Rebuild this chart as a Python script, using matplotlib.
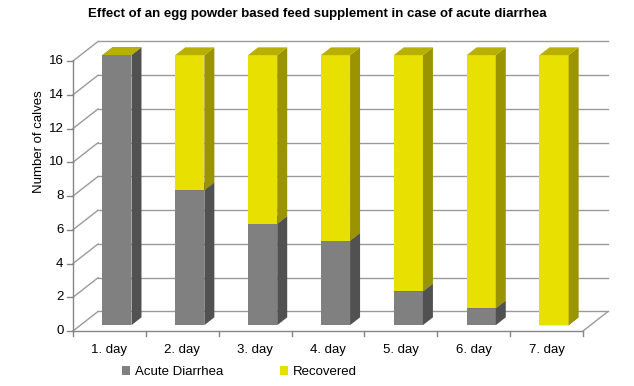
import matplotlib
matplotlib.use("Agg")
import matplotlib.pyplot as plt
from matplotlib.patches import Polygon, Patch

# ── data ───────────────────────────────────────────────
days = ["1. day", "2. day", "3. day", "4. day", "5. day", "6. day", "7. day"]
acute = [16, 8, 6, 5, 2, 1, 0]
recovered = [0, 8, 10, 11, 14, 15, 16]
yticks = [0, 2, 4, 6, 8, 10, 12, 14, 16]

series = [
    ("Acute Diarrhea", acute, ("#808080", "#515151", "#6a6a6a")),
    ("Recovered", recovered, ("#e8e000", "#9a9400", "#b8b000")),
]

# ── fake 3D geometry (depth offset in data units) ──────
DX, DY = 0.343, 1.156          # back wall offset
BAR_W = 0.4
Z0, Z1 = 0.3, 0.7              # bar depth range (fraction of DX/DY)
GRID = "#9a9a9a"
AXIS = "#868686"
FONT = "Liberation Sans"

fig = plt.figure(figsize=(6.34, 3.86), dpi=100)
ax = fig.add_axes([0, 0, 1, 1])
ax.set_xlim(-1.002, 7.70)
ax.set_ylim(-3.259, 19.615)
ax.axis("off")

n = len(days)
ymax = yticks[-1]

# walls / gridlines
for v in yticks:
    ax.plot([0, DX], [v, v + DY], color=GRID, lw=1, zorder=1)
    ax.plot([DX, n + DX], [v + DY, v + DY], color=GRID, lw=1, zorder=1)
    ax.plot([-0.08, 0], [v, v], color=AXIS, lw=1, zorder=1)
    ax.text(-0.13, v, str(v), ha="right", va="center", fontsize=9.5,
            family=FONT)
ax.plot([0, n], [0, 0], color=AXIS, lw=1, zorder=1)
ax.plot([n, n + DX], [0, DY], color=GRID, lw=1, zorder=1)
ax.plot([0, 0], [0, ymax], color=AXIS, lw=1, zorder=1)
for i in range(n + 1):
    ax.plot([i, i], [0, -0.3], color=AXIS, lw=1, zorder=1)
for i, d in enumerate(days):
    ax.text(i + 0.5, -1.15, d, ha="center", va="center", fontsize=9.5,
            family=FONT)

# bars
for i in range(n):
    base = 0
    for name, vals, (c_front, c_side, c_top) in series:
        h = vals[i]
        x0 = i + 0.5 - BAR_W / 2 + Z0 * DX
        x1 = x0 + BAR_W
        y0 = base + Z0 * DY
        y1 = y0 + h
        ddx, ddy = (Z1 - Z0) * DX, (Z1 - Z0) * DY
        if h > 0:
            ax.add_patch(Polygon([(x0, y0), (x1, y0), (x1, y1), (x0, y1)],
                                 fc=c_front, lw=0, zorder=3))
            ax.add_patch(Polygon([(x1, y0), (x1 + ddx, y0 + ddy),
                                  (x1 + ddx, y1 + ddy), (x1, y1)],
                                 fc=c_side, lw=0, zorder=3))
        ax.add_patch(Polygon([(x0, y1), (x1, y1), (x1 + ddx, y1 + ddy),
                              (x0 + ddx, y1 + ddy)],
                             fc=c_top, lw=0, zorder=3))
        base += h

ax.text(-0.46, 11.2, "Number of calves", rotation=90, ha="center",
        va="center", fontsize=9.5, family=FONT)

fig.text(0.5, 0.963, "Effect of an egg powder based feed supplement in case of acute diarrhea",
         ha="center", va="center", fontsize=9.5, fontweight="bold",
         family=["Liberation Sans Narrow", FONT])

handles = [Patch(fc=c[0], ec="none", label=name) for name, _, c in series]
fig.legend(handles=handles, loc="center", bbox_to_anchor=(0.378, 0.036),
           ncol=2, frameon=False, handlelength=0.6, handleheight=0.6,
           handletextpad=0.4, columnspacing=4.3,
           prop={"family": FONT, "size": 9.5})

fig.savefig("out.png", dpi=100)
